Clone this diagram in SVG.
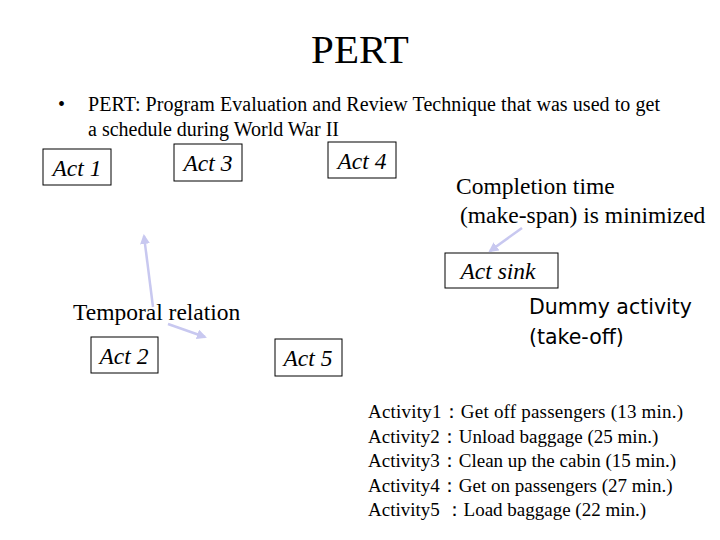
<svg xmlns="http://www.w3.org/2000/svg" width="720" height="540" viewBox="0 0 720 540">
<style>
.t{font-family:"Liberation Serif",serif;fill:#000}
.box{fill:#fff;stroke:#000;stroke-width:1}
.act{font-family:"Liberation Serif",serif;font-style:italic;font-size:23.5px;text-anchor:middle}
.con{stroke:#c8c8f0;stroke-width:2.5;fill:none}
</style>
<defs><marker id="ah" viewBox="0 0 10 10" refX="8" refY="5" markerWidth="4" markerHeight="4" orient="auto"><path d="M0,0L10,5L0,10z" fill="#c8c8f0"/></marker></defs>
<rect width="720" height="540" fill="#fff"/>
<text class="t" x="360" y="63" font-size="41" text-anchor="middle">PERT</text>
<text class="t" x="58" y="111" font-size="20">•</text>
<text class="t" x="88" y="111" font-size="20" textLength="572">PERT: Program Evaluation and Review Technique that was used to get</text>
<text class="t" x="88" y="136" font-size="20">a schedule during World War II</text>
<g id="act1"><rect class="box" x="43" y="149" width="68" height="36"/><text class="act" x="77" y="176">Act 1</text></g>
<g id="act3"><rect class="box" x="174" y="144" width="68" height="37"/><text class="act" x="208" y="171">Act 3</text></g>
<g id="act4"><rect class="box" x="328" y="142" width="68" height="36"/><text class="act" x="362" y="169">Act 4</text></g>
<g id="act2"><rect class="box" x="91" y="337" width="67" height="36"/><text class="act" x="124" y="364">Act 2</text></g>
<g id="act5"><rect class="box" x="275" y="339" width="67" height="37"/><text class="act" x="308" y="366">Act 5</text></g>
<g id="actsink"><rect class="box" x="445" y="253" width="113" height="35"/><text class="act" x="498" y="279">Act sink</text></g>
<g id="connectors">
<line class="con" x1="153" y1="307" x2="144" y2="236" marker-end="url(#ah)"/>
<line class="con" x1="168" y1="324" x2="205" y2="337" marker-end="url(#ah)"/>
<line class="con" x1="522" y1="228" x2="490" y2="251" stroke-width="1.5" marker-end="url(#ah)"/>
</g>
<text class="t" x="73" y="320" font-size="23.5">Temporal relation</text>
<text class="t" x="456" y="194" font-size="23.5">Completion time</text>
<text class="t" x="460" y="223" font-size="23.5">(make-span) is minimized</text>
<text x="529" y="314" font-size="20.5" font-family="DejaVu Sans,sans-serif">Dummy activity</text>
<text x="529" y="344" font-size="20.5" font-family="DejaVu Sans,sans-serif">(take-off)</text>
<g class="t" font-size="19">
<text x="368" y="418" textLength="315">Activity1：Get off passengers (13 min.)</text>
<text x="368" y="443">Activity2：Unload baggage (25 min.)</text>
<text x="368" y="467">Activity3：Clean up the cabin (15 min.)</text>
<text x="368" y="492">Activity4：Get on passengers (27 min.)</text>
<text x="368" y="516">Activity5 ：Load baggage (22 min.)</text>
</g>
</svg>
